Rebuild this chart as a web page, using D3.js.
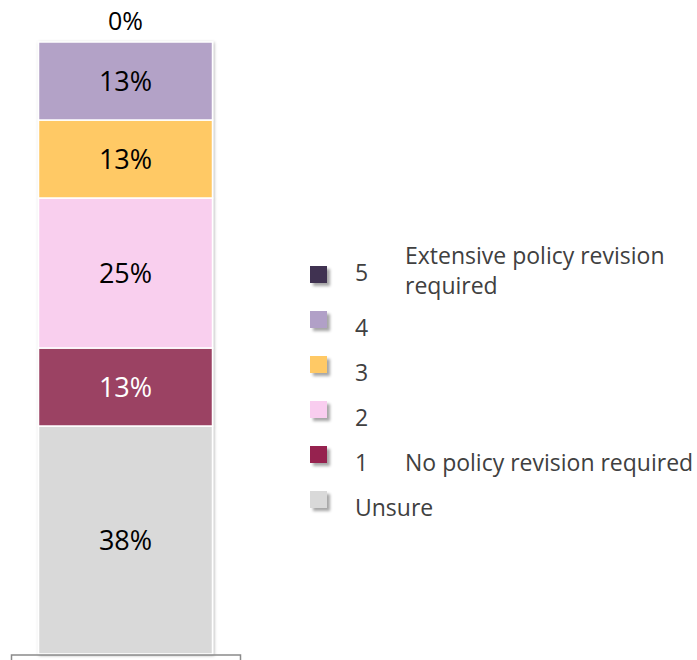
<!DOCTYPE html>
<html>
<head>
<meta charset="utf-8">
<script src="https://cdn.jsdelivr.net/npm/d3@7"></script>
<style>
  html, body { margin: 0; padding: 0; background: #fff; }
  svg { display: block; font-family: "Open Sans", Lato, sans-serif; }
</style>
</head>
<body>
<svg id="chart" width="697" height="660"></svg>
<script>
// Survey responses: how much policy revision is required (one stacked column)
const categories = ["Unsure", "1", "2", "3", "4", "5"];
const shares = [38, 13, 25, 13, 13, 0];
const seriesName = "Responses";
const legendNotes = {
  "5": ["Extensive policy revision", "required"],
  "1": ["No policy revision required"]
};

const barColors = ["#d9d9d9", "#9b4263", "#f9cfee", "#ffc965", "#b3a2c7", "#403152"];
const swatchColors = ["#d9d9d9", "#962350", "#f9cdef", "#ffc965", "#b1a0c7", "#3f3151"];
const labelColors = ["#000", "#fff", "#000", "#000", "#000", "#000"];

const svg = d3.select("#chart");
const defs = svg.append("defs");
defs.append("filter").attr("id", "barShadow")
  .attr("x", "-10%").attr("y", "-10%").attr("width", "120%").attr("height", "120%")
  .append("feDropShadow")
  .attr("dx", 1).attr("dy", 1).attr("stdDeviation", 1.6)
  .attr("flood-color", "#000").attr("flood-opacity", 0.3);
defs.append("filter").attr("id", "swatchShadow")
  .attr("x", "-40%").attr("y", "-40%").attr("width", "200%").attr("height", "200%")
  .append("feDropShadow")
  .attr("dx", 3).attr("dy", 3).attr("stdDeviation", 1.8)
  .attr("flood-color", "#000").attr("flood-opacity", 0.35);

// one row table for d3.stack
const row = { name: seriesName };
categories.forEach((c, i) => { row[c] = shares[i]; });
const stacked = d3.stack().keys(categories)([row]);

const x = d3.scaleBand().domain([seriesName]).range([11, 240])
  .paddingInner(0).paddingOuter(0.158);
const y = d3.scaleLinear().domain([0, d3.sum(shares)]).range([654, 42]);
const color = d3.scaleOrdinal().domain(categories).range(barColors);
const swatch = d3.scaleOrdinal().domain(categories).range(swatchColors);
const ink = d3.scaleOrdinal().domain(categories).range(labelColors);

// column segments
svg.append("g").attr("filter", "url(#barShadow)")
  .selectAll("rect").data(stacked).join("rect")
  .attr("x", x(seriesName))
  .attr("width", x.bandwidth())
  .attr("y", s => y(s[0][1]))
  .attr("height", s => y(s[0][0]) - y(s[0][1]))
  .attr("fill", s => color(s.key))
  .attr("stroke", "#fff")
  .attr("stroke-width", 1.5);

// value labels
const cx = x(seriesName) + x.bandwidth() / 2;
svg.append("g").selectAll("text").data(stacked).join("text")
  .attr("x", cx)
  .attr("y", s => {
    const top = y(s[0][1]), bot = y(s[0][0]);
    return (bot - top) > 1 ? (top + bot) / 2 : top - 21;
  })
  .attr("dy", "0.36em")
  .attr("text-anchor", "middle")
  .attr("font-size", s => (y(s[0][0]) - y(s[0][1])) > 1 ? 27 : 25)
  .attr("fill", s => ink(s.key))
  .text(s => s[0].data[s.key] + "%");

// category axis: baseline with outer ticks only
const axis = svg.append("g").attr("transform", "translate(0,654.5)")
  .call(d3.axisBottom(x).tickValues([]).tickSizeOuter(7));
axis.select(".domain").attr("stroke", "#8a8a8a").attr("stroke-width", 1.5);

// legend, top entry first
const legendKeys = categories.slice().reverse();
const ly = d3.scalePoint().domain(legendKeys).range([274.5, 499.5]);
const legend = svg.append("g");
const items = legend.selectAll("g").data(legendKeys).join("g")
  .attr("transform", k => `translate(0,${ly(k)})`);
items.append("rect")
  .attr("x", 310).attr("y", -8.5).attr("width", 17).attr("height", 17)
  .attr("fill", k => swatch(k))
  .attr("filter", "url(#swatchShadow)");
items.append("text")
  .attr("x", 355)
  .attr("y", k => (legendNotes[k] && legendNotes[k].length > 1) ? 6.5 : 16)
  .attr("font-size", 23)
  .attr("fill", "#404040")
  .text(k => k);
items.filter(k => legendNotes[k]).each(function(k) {
  const lines = legendNotes[k];
  const t = d3.select(this).append("text")
    .attr("x", 405)
    .attr("font-size", 23)
    .attr("fill", "#404040");
  const first = lines.length > 1 ? -11 : 16;
  lines.forEach((ln, i) => {
    t.append("tspan").attr("x", 405).attr("y", first + i * 30.5).text(ln);
  });
});
</script>
</body>
</html>
